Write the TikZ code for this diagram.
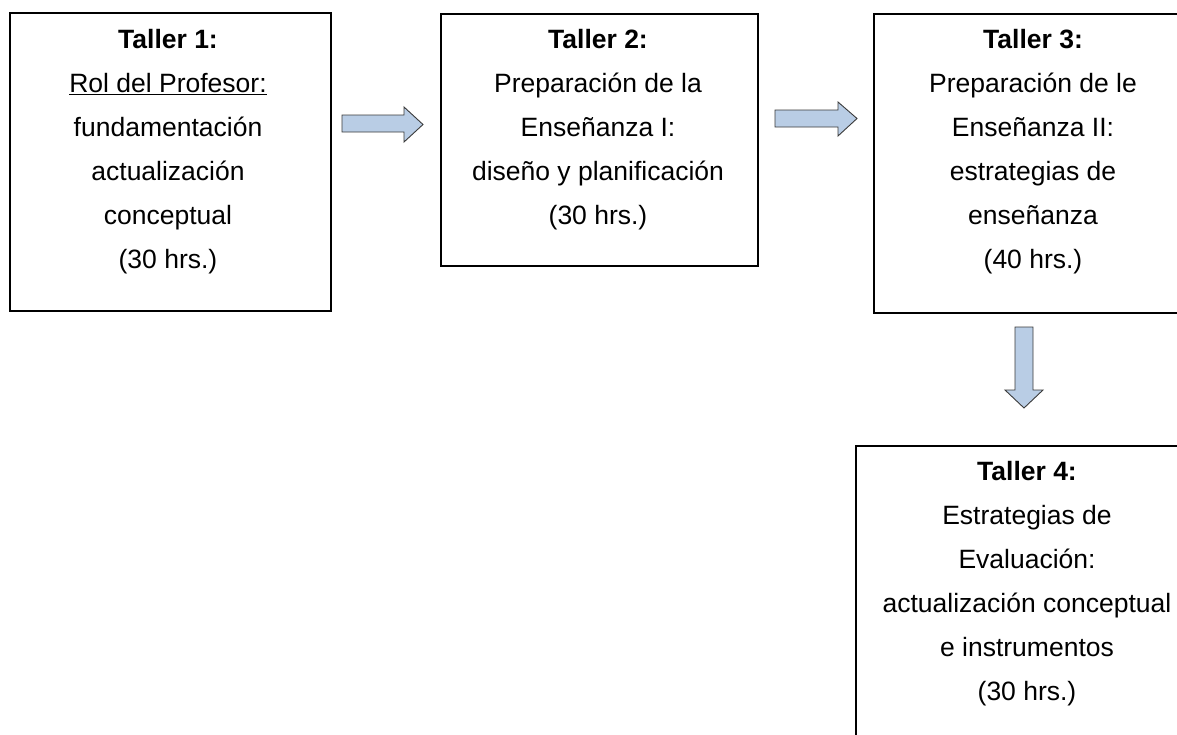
\documentclass[tikz,border=0pt]{standalone}
\usepackage{fontspec}
\setmainfont{Liberation Sans}
\definecolor{arrowblue}{HTML}{B9CDE5}
\definecolor{arrowedge}{HTML}{3A3A3A}
\begin{document}
\begin{tikzpicture}[x=1pt,y=-1pt,
  box/.style={draw=black, line width=1.8pt, anchor=north west, inner sep=0pt, fill=none},
  lbl/.style={anchor=north, inner sep=0pt, align=center, font=\fontsize{26.5}{44}\selectfont},
  blockarrow/.style={fill=arrowblue, draw=arrowedge, line width=0.9pt, line join=miter}]
\useasboundingbox (0,0) rectangle (1177,734);
\clip (0,0) rectangle (1177,734);
% boxes
\node[box, minimum width=321pt, minimum height=298pt] (b1) at (9,12) {};
\node[box, minimum width=317pt, minimum height=252pt] (b2) at (440,13) {};
\node[box, minimum width=320pt, minimum height=299pt] (b3) at (873,13) {};
\node[box, minimum width=344pt, minimum height=315pt] (b4) at (855,445) {};
% texts
\node[lbl] (t1) at (168,29) {\textbf{Taller 1:}\\\underline{Rol del Profesor:}\\fundamentación\\actualización\\conceptual\\(30 hrs.)};
\node[lbl] (t2) at (598,29) {\textbf{Taller 2:}\\Preparación de la\\Enseñanza I:\\diseño y planificación\\(30 hrs.)};
\node[lbl] (t3) at (1033,29) {\textbf{Taller 3:}\\Preparación de le\\Enseñanza II:\\estrategias de\\enseñanza\\(40 hrs.)};
\node[lbl] (t4) at (1027,461) {\textbf{Taller 4:}\\Estrategias de\\Evaluación:\\actualización conceptual\\e instrumentos\\(30 hrs.)};
% block arrows
\draw[blockarrow] (342,115) -- (404,115) -- (404,107) -- (423,124.5) -- (404,142) -- (404,132) -- (342,132) -- cycle;
\draw[blockarrow] (775,110) -- (838,110) -- (838,102) -- (857,118.5) -- (838,136) -- (838,127) -- (775,127) -- cycle;
\draw[blockarrow] (1015,327) -- (1033,327) -- (1033,390) -- (1043,390) -- (1024,408) -- (1005,390) -- (1015,390) -- cycle;
\end{tikzpicture}
\end{document}
